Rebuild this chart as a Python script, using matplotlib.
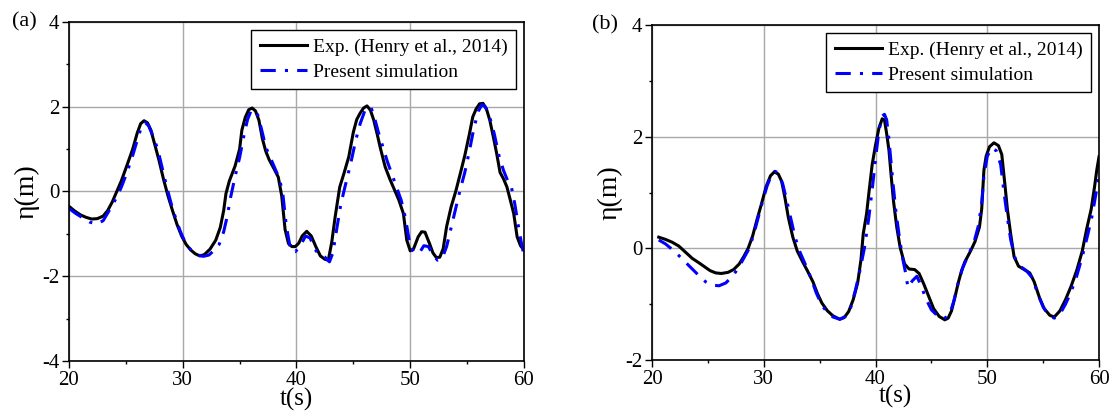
import numpy as np
import matplotlib
matplotlib.use('Agg')
import matplotlib.pyplot as plt
from matplotlib.ticker import MultipleLocator

plt.rcParams['font.family'] = ['Liberation Serif', 'DejaVu Serif']
plt.rcParams['axes.unicode_minus'] = False

# (a) 实测与模拟的波面时程
t_exp_a = [20.0, 20.5, 21.0, 21.5, 22.0, 22.5, 23.0, 23.4, 23.8, 24.2, 24.6, 25.1, 25.6, 26.0, 26.3,
           26.6, 26.9, 27.2, 27.5, 27.9, 28.3, 28.7, 29.1, 29.5, 29.9, 30.3, 30.7, 31.1, 31.5, 31.9,
           32.4, 32.9, 33.3, 33.6, 33.8, 34.1, 34.6, 35.0, 35.2, 35.5, 35.8, 36.1, 36.4, 36.7, 37.0,
           37.3, 37.6, 38.0, 38.4, 38.7, 39.0, 39.3, 39.6, 39.9, 40.2, 40.5, 40.9, 41.3, 41.7, 42.1,
           42.5, 42.8, 43.1, 43.4, 43.8, 44.2, 44.6, 45.0, 45.3, 45.6, 45.9, 46.2, 46.5, 46.8, 47.1,
           47.4, 47.8, 48.2, 48.6, 49.0, 49.4, 49.7, 50.0, 50.3, 50.7, 51.0, 51.3, 51.7, 52.0, 52.3,
           52.6, 52.9, 53.2, 53.6, 54.0, 54.4, 54.8, 55.2, 55.5, 55.8, 56.1, 56.4, 56.7, 57.0, 57.3,
           57.6, 57.9, 58.2, 58.5, 58.8, 59.1, 59.4, 59.7, 60.0]
eta_exp_a = [-0.35, -0.46, -0.55, -0.61, -0.65, -0.64, -0.58, -0.45, -0.25, 0.0, 0.25, 0.62, 1.0, 1.38, 1.60,
             1.67, 1.62, 1.45, 1.15, 0.75, 0.30, -0.10, -0.45, -0.78, -1.05, -1.25, -1.38, -1.47, -1.52, -1.49,
             -1.36, -1.15, -0.85, -0.45, -0.05, 0.25, 0.60, 1.00, 1.45, 1.75, 1.93, 1.97, 1.90, 1.68, 1.25,
             0.95, 0.75, 0.55, 0.34, -0.10, -0.90, -1.23, -1.30, -1.30, -1.22, -1.05, -0.94, -1.05, -1.30, -1.52,
             -1.60, -1.62, -1.20, -0.60, 0.10, 0.45, 0.82, 1.40, 1.70, 1.85, 1.97, 2.02, 1.92, 1.68, 1.35,
             1.00, 0.58, 0.30, 0.05, -0.20, -0.52, -1.15, -1.40, -1.35, -1.07, -0.95, -0.96, -1.23, -1.45, -1.56,
             -1.55, -1.35, -0.83, -0.36, 0.00, 0.42, 0.85, 1.35, 1.76, 1.95, 2.07, 2.08, 1.95, 1.68, 1.30,
             0.90, 0.45, 0.30, 0.11, -0.20, -0.52, -1.07, -1.28, -1.38]

t_sim_a = [20.0, 20.6, 21.2, 21.8, 22.4, 23.0, 23.6, 24.1, 24.6, 25.1, 25.6, 26.1, 26.4, 26.7, 27.0,
           27.4, 27.8, 28.2, 28.6, 29.0, 29.4, 29.8, 30.3, 30.8, 31.3, 31.8, 32.3, 32.8, 33.2, 33.6,
           33.9, 34.2, 34.6, 35.0, 35.4, 35.7, 36.0, 36.3, 36.6, 36.9, 37.3, 37.7, 38.1, 38.5, 38.8,
           39.1, 39.5, 39.9, 40.3, 40.8, 41.2, 41.6, 42.0, 42.5, 42.9, 43.2, 43.5, 43.9, 44.3, 44.8,
           45.2, 45.6, 46.0, 46.3, 46.6, 46.9, 47.2, 47.6, 48.0, 48.4, 48.8, 49.2, 49.6, 50.0, 50.4,
           50.8, 51.2, 51.6, 52.0, 52.4, 52.8, 53.2, 53.6, 54.0, 54.4, 54.8, 55.2, 55.6, 56.0, 56.3,
           56.6, 57.0, 57.4, 57.8, 58.2, 58.5, 58.9, 59.2, 59.5, 59.8, 60.0]
eta_sim_a = [-0.40, -0.52, -0.62, -0.72, -0.77, -0.69, -0.42, -0.18, 0.10, 0.45, 0.85, 1.30, 1.55, 1.63, 1.55,
             1.30, 1.00, 0.55, 0.10, -0.30, -0.65, -0.95, -1.25, -1.40, -1.50, -1.53, -1.50, -1.38, -1.25, -0.95,
             -0.60, -0.15, 0.35, 0.80, 1.35, 1.70, 1.90, 1.93, 1.80, 1.50, 1.05, 0.80, 0.55, 0.30, -0.05,
             -0.80, -1.40, -1.42, -1.30, -1.05, -1.10, -1.35, -1.50, -1.55, -1.66, -1.45, -0.95, -0.30, 0.15, 0.70,
             1.20, 1.60, 1.90, 2.00, 1.95, 1.70, 1.40, 1.05, 0.70, 0.40, 0.10, -0.20, -0.65, -1.30, -1.45,
             -1.45, -1.28, -1.30, -1.50, -1.62, -1.58, -1.30, -0.85, -0.40, 0.05, 0.45, 0.95, 1.50, 1.90, 2.05,
             2.00, 1.75, 1.35, 0.85, 0.50, 0.30, 0.10, -0.30, -0.80, -1.25, -1.50]

# (b)
t_exp_b = [20.6, 21.2, 21.8, 22.4, 23.0, 23.6, 24.2, 24.7, 25.2, 25.7, 26.2, 26.8, 27.3, 27.8, 28.2,
           28.6, 29.0, 29.4, 29.8, 30.2, 30.6, 30.95, 31.3, 31.6, 31.9, 32.2, 32.6, 33.0, 33.5, 33.9,
           34.4, 34.8, 35.2, 35.7, 36.2, 36.8, 37.2, 37.6, 38.0, 38.4, 38.7, 38.9, 39.2, 39.4, 39.7,
           40.0, 40.3, 40.6, 40.8, 41.0, 41.2, 41.4, 41.6, 41.9, 42.2, 42.6, 43.0, 43.5, 43.9, 44.3,
           44.8, 45.2, 45.7, 46.2, 46.5, 46.8, 47.1, 47.4, 47.7, 48.0, 48.5, 48.9, 49.3, 49.5, 49.7,
           49.9, 50.2, 50.6, 51.0, 51.3, 51.6, 51.8, 52.1, 52.4, 52.8, 53.3, 53.8, 54.2, 54.7, 55.1,
           55.6, 56.0, 56.5, 57.0, 57.5, 58.0, 58.5, 58.9, 59.3, 59.6, 59.8, 60.0]
eta_exp_b = [0.20, 0.16, 0.11, 0.04, -0.07, -0.18, -0.26, -0.33, -0.40, -0.44, -0.45, -0.43, -0.38, -0.28, -0.15,
             0.00, 0.22, 0.52, 0.80, 1.10, 1.30, 1.37, 1.33, 1.20, 0.90, 0.55, 0.20, -0.05, -0.25, -0.40,
             -0.60, -0.81, -0.98, -1.12, -1.21, -1.27, -1.24, -1.13, -0.92, -0.62, -0.20, 0.26, 0.62, 0.98, 1.50,
             1.85, 2.15, 2.32, 2.30, 2.05, 1.76, 1.30, 0.86, 0.38, 0.02, -0.28, -0.37, -0.38, -0.45, -0.63,
             -0.88, -1.08, -1.22, -1.28, -1.25, -1.12, -0.88, -0.62, -0.40, -0.24, -0.05, 0.12, 0.38, 0.70, 1.40,
             1.65, 1.82, 1.89, 1.84, 1.68, 1.10, 0.70, 0.25, -0.15, -0.32, -0.38, -0.44, -0.60, -0.90, -1.08,
             -1.20, -1.23, -1.12, -0.92, -0.68, -0.40, -0.05, 0.35, 0.70, 1.10, 1.40, 1.64]

t_sim_b = [20.6, 21.2, 21.8, 22.4, 23.0, 23.6, 24.2, 24.8, 25.4, 26.0, 26.6, 27.2, 27.7, 28.2, 28.7,
           29.1, 29.5, 29.9, 30.3, 30.7, 31.0, 31.3, 31.7, 32.0, 32.4, 32.8, 33.2, 33.7, 34.2, 34.7,
           35.2, 35.7, 36.2, 36.8, 37.3, 37.8, 38.2, 38.6, 39.0, 39.4, 39.7, 40.0, 40.3, 40.6, 40.8,
           41.0, 41.2, 41.5, 41.8, 42.1, 42.4, 42.7, 42.9, 43.3, 43.7, 44.1, 44.5, 45.0, 45.6, 46.1,
           46.6, 47.0, 47.4, 47.8, 48.3, 48.8, 49.2, 49.5, 49.7, 50.0, 50.4, 50.8, 51.2, 51.5, 51.8,
           52.1, 52.5, 53.0, 53.5, 54.0, 54.5, 55.0, 55.5, 56.0, 56.5, 57.0, 57.5, 58.0, 58.5, 59.0,
           59.4, 59.7, 60.0]
eta_sim_b = [0.15, 0.08, -0.02, -0.13, -0.25, -0.37, -0.49, -0.60, -0.66, -0.67, -0.62, -0.50, -0.36, -0.18, 0.00,
             0.25, 0.55, 0.85, 1.12, 1.32, 1.38, 1.35, 1.15, 0.90, 0.55, 0.20, -0.05, -0.28, -0.52, -0.80,
             -1.02, -1.15, -1.23, -1.27, -1.22, -1.05, -0.75, -0.40, 0.00, 0.55, 1.05, 1.60, 2.10, 2.37, 2.40,
             2.30, 1.95, 1.30, 0.70, 0.25, -0.15, -0.45, -0.70, -0.58, -0.50, -0.68, -0.90, -1.10, -1.22, -1.26,
             -1.20, -0.95, -0.62, -0.35, -0.12, 0.10, 0.40, 0.80, 1.30, 1.65, 1.80, 1.75, 1.50, 1.00, 0.55,
             0.15, -0.18, -0.33, -0.40, -0.52, -0.80, -1.05, -1.20, -1.25, -1.18, -1.00, -0.78, -0.50, -0.15, 0.25,
             0.60, 0.95, 1.28]

fig = plt.figure(figsize=(11.11, 4.12), dpi=100)
ax_a = fig.add_axes([0.0621, 0.1238, 0.4095, 0.8228])
ax_b = fig.add_axes([0.5869, 0.1262, 0.4023, 0.8131])

dash_dot = (0, (5, 3, 1, 3))


def style_axes(ax, ylim, ymajor):
    ax.set_xlim(20, 60)
    ax.set_ylim(*ylim)
    ax.xaxis.set_major_locator(MultipleLocator(10))
    ax.xaxis.set_minor_locator(MultipleLocator(5))
    ax.yaxis.set_major_locator(MultipleLocator(ymajor))
    ax.yaxis.set_minor_locator(MultipleLocator(ymajor / 2))
    ax.tick_params(which='major', direction='out', length=5, width=1.0, labelsize=15, pad=2)
    ax.tick_params(which='minor', direction='out', length=2.5, width=1.0)
    ax.grid(True, which='major', color='#a8a8a8', linewidth=1.0)
    ax.set_axisbelow(True)
    for sp in ax.spines.values():
        sp.set_linewidth(1.2)
    ax.set_xlabel('t(s)', fontsize=18, labelpad=-1)
    ax.set_ylabel('η(m)', fontsize=20, labelpad=2)


for ax, t_exp, eta_exp, t_sim, eta_sim in [(ax_a, t_exp_a, eta_exp_a, t_sim_a, eta_sim_a),
                                             (ax_b, t_exp_b, eta_exp_b, t_sim_b, eta_sim_b)]:
    ax.plot(t_exp, eta_exp, color='black', linewidth=2.2, label='Exp. (Henry et al., 2014)')
    ax.plot(t_sim, eta_sim, color='blue', linewidth=2.2, linestyle=dash_dot, label='Present simulation')
    leg = ax.legend(loc='upper right', fontsize=14, frameon=True, fancybox=False, framealpha=1,
                    edgecolor='black', handlelength=2.4, handletextpad=0.3, borderpad=0.45,
                    labelspacing=0.35, borderaxespad=0.4)
    leg.get_frame().set_linewidth(1.0)

style_axes(ax_a, (-4, 4), 2)
style_axes(ax_b, (-2, 4), 2)
ax_b.xaxis.set_label_coords(0.544, -0.075)

fig.text(0.011, 0.946, '(a)', fontsize=16, va='center')
fig.text(0.533, 0.939, '(b)', fontsize=16, va='center')

plt.savefig('out.png', dpi=100)
